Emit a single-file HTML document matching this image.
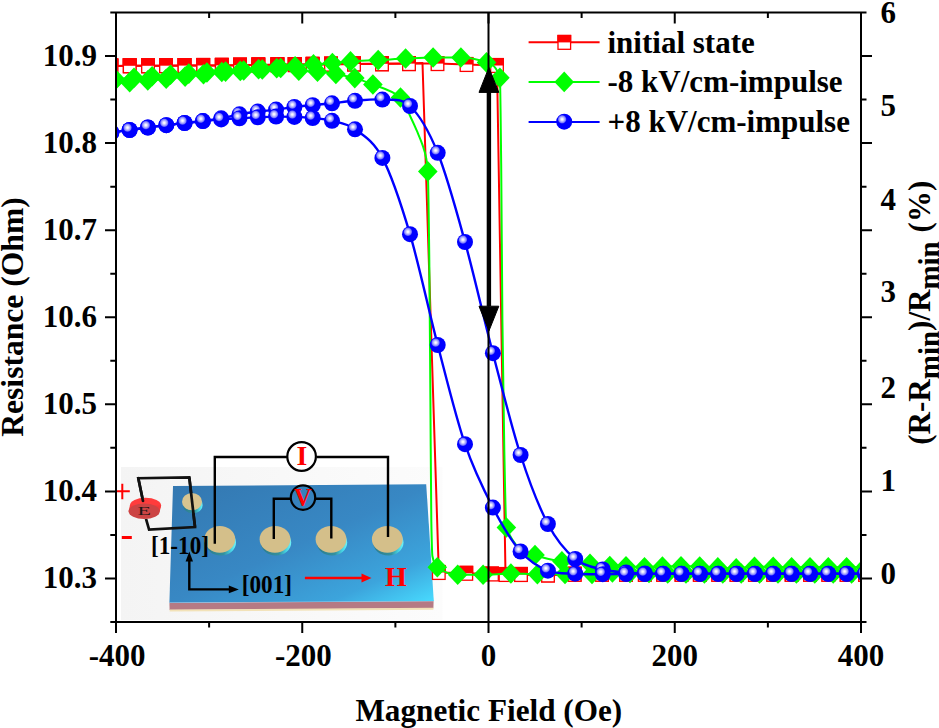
<!DOCTYPE html><html><head><meta charset="utf-8"><style>html,body{margin:0;padding:0;background:#fff;width:939px;height:728px;overflow:hidden}svg{display:block}</style></head><body>
<svg width="939" height="728" viewBox="0 0 939 728">
<defs>
<radialGradient id="sph" cx="0.37" cy="0.35" r="0.5" fx="0.37" fy="0.35"><stop offset="0" stop-color="#ffffff"/><stop offset="0.1" stop-color="#f4f4ff"/><stop offset="0.28" stop-color="#b8b8ff"/><stop offset="0.44" stop-color="#7a7aff"/><stop offset="0.52" stop-color="#2424ff"/><stop offset="0.58" stop-color="#0000ff"/><stop offset="1" stop-color="#0000ff"/></radialGradient>
<clipPath id="plot"><rect x="116" y="12.5" width="745" height="609.5"/></clipPath>
<linearGradient id="slab" x1="0" y1="0" x2="1" y2="1"><stop offset="0" stop-color="#3377b0"/><stop offset="0.5" stop-color="#3888c4"/><stop offset="0.8" stop-color="#3ca4dc"/><stop offset="1" stop-color="#48dcff"/></linearGradient>
<linearGradient id="ered" x1="0" y1="0" x2="0" y2="1"><stop offset="0" stop-color="#f03838"/><stop offset="1" stop-color="#c83a3a"/></linearGradient>
<linearGradient id="rim" x1="0" y1="0" x2="1" y2="0"><stop offset="0" stop-color="#2c7c8e"/><stop offset="0.6" stop-color="#33909e"/><stop offset="0.85" stop-color="#48d8e8"/><stop offset="1" stop-color="#70f4f8"/></linearGradient>
<linearGradient id="ibg" x1="0" y1="0" x2="1" y2="0"><stop offset="0" stop-color="#f4f4f4"/><stop offset="1" stop-color="#fcfcfc"/></linearGradient>
</defs>
<rect width="939" height="728" fill="#fff"/>
<rect x="121" y="467" width="321.5" height="153" fill="url(#ibg)"/>
<path d="M169.4 602.5 L433.6 600.8 L433.4 608.2 L169.6 610 Z" fill="#b57a84"/>
<path d="M169.6 609.6 L433.4 607.8 L433.3 609.8 L169.7 611.6 Z" fill="#f2e2b8"/>
<path d="M169.4 602.5 L433.6 600.8" stroke="#b8d8f0" stroke-width="1"/>
<path d="M173 485.9 L426.2 484.3 L433.8 601 L169.4 602.6 Z" fill="url(#slab)"/>
<path d="M143 500.8 L138.3 478.2 L189.3 477.4 L195 527 L149.1 529.6 L146 518.8" fill="none" stroke="#111" stroke-width="2.7" stroke-linejoin="miter"/>
<ellipse cx="145.5" cy="505.6" rx="15.6" ry="7.9" fill="#ff3c3c"/>
<path d="M129.9 505.6 L161.1 505.6 L159.8 511.3 L128.6 511.3 Z" fill="#f43a3a"/>
<ellipse cx="144.2" cy="511.3" rx="15.6" ry="7.8" fill="#cc4444"/>
<path d="M138.3 478.2 L143 501" fill="none" stroke="#111" stroke-width="2.7" stroke-linecap="round"/>
<text transform="translate(137.6 515.4) scale(1.72 1)" x="0" y="0" font-size="12.8" style="font-family:'Liberation Serif',serif" fill="#1e1414">E</text>
<ellipse cx="192.8" cy="505" rx="9.8" ry="8.4" fill="url(#rim)"/>
<ellipse cx="192" cy="501.7" rx="10" ry="8.6" fill="#d8c490"/>
<path d="M189.3 477.4 L195 527" fill="none" stroke="#111" stroke-width="2.7"/>
<ellipse cx="220.8" cy="542.6" rx="15.2" ry="13" fill="url(#rim)"/>
<ellipse cx="219.8" cy="539.3" rx="15.4" ry="13.4" fill="#d4bf8a"/>
<ellipse cx="276.0" cy="542.6" rx="15.2" ry="13" fill="url(#rim)"/>
<ellipse cx="275.0" cy="539.3" rx="15.4" ry="13.4" fill="#d4bf8a"/>
<ellipse cx="332.0" cy="542.6" rx="15.2" ry="13" fill="url(#rim)"/>
<ellipse cx="331.0" cy="539.3" rx="15.4" ry="13.4" fill="#d4bf8a"/>
<ellipse cx="388.3" cy="542.6" rx="15.2" ry="13" fill="url(#rim)"/>
<ellipse cx="387.3" cy="539.3" rx="15.4" ry="13.4" fill="#d4bf8a"/>
<path d="M214.8 543.8 L214.8 457 L287 457 M316.7 457 L388 457 L388 537" fill="none" stroke="#000" stroke-width="2.4"/>
<circle cx="301.6" cy="456.5" r="14.3" fill="#fff" stroke="#000" stroke-width="2.2"/>
<text x="301.8" y="464.6" font-size="27.6" text-anchor="middle" style="font-family:'Liberation Serif',serif;font-weight:bold" fill="#ff0000">I</text>
<path d="M273.8 539 L273.8 498.8 L290.5 498.8 M315.3 498.8 L331.3 498.8 L331.3 538.4" fill="none" stroke="#000" stroke-width="2.4"/>
<circle cx="303" cy="497.6" r="12.2" fill="none" stroke="#000" stroke-width="2.2"/>
<text x="302.8" y="506.2" font-size="24.2" text-anchor="middle" style="font-family:'Liberation Serif',serif;font-weight:bold" fill="#ff0000">V</text>
<path d="M116.7 491.3 L129.8 491.3 M122.3 483.8 L122.3 499.3" stroke="#ff0000" stroke-width="2"/>
<rect x="121.8" y="536" width="10" height="3" fill="#ff0000"/>
<text transform="translate(151.0 553.6) scale(1 1.1)" font-size="23.2" style="font-family:'Liberation Serif',serif;font-weight:bold" fill="#000">[1-10]</text>
<text transform="translate(241.8 592.7) scale(1 1.1)" font-size="23.2" style="font-family:'Liberation Serif',serif;font-weight:bold" fill="#000">[001]</text>
<path d="M189.3 560 L189.3 589.4 L230 589.4" fill="none" stroke="#000" stroke-width="2.4"/>
<path d="M189.3 551.5 L185.6 561.5 L193 561.5 Z" fill="#000"/>
<path d="M238.8 589.4 L228.8 585.6 L228.8 593.2 Z" fill="#000"/>
<path d="M304.9 578 L363 578" stroke="#ff0000" stroke-width="2.6"/>
<path d="M371.5 578 L361.5 573.6 L361.5 582.4 Z" fill="#ff0000"/>
<text x="385.0" y="586.2" font-size="28" style="font-family:'Liberation Serif',serif;font-weight:bold" fill="#ff0000">H</text>
<g clip-path="url(#plot)">
<path d="M111.40 66.00 L129.70 65.80 L148.00 65.80 L166.00 65.70 L184.50 65.60 L203.20 65.50 L221.80 65.40 L240.00 65.20 L258.30 65.00 L277.40 64.80 L294.70 64.60 L312.60 64.40 L331.00 64.20 L354.00 64.00 L382.00 63.80 L409.00 63.60 L437.50 63.60 L466.50 64.50 L497.00 65.50 L505.50 574.50 L521.00 574.50 L548.00 575.00 L574.70 574.30 L602.00 574.30 L626.00 574.30 L644.80 574.30 L663.10 574.30 L681.50 574.30 L699.80 574.30 L718.20 574.30 L736.50 574.30 L754.90 574.30 L773.20 574.30 L791.60 574.30 L810.00 574.30 L828.30 574.30 L846.60 574.30 L865.00 574.30" fill="none" stroke="#ff0000" stroke-width="2" stroke-linejoin="round"/>
<path d="M111.40 66.00 L129.70 65.80 L148.00 65.80 L166.00 65.70 L184.50 65.60 L203.20 65.50 L221.80 65.40 L240.00 65.20 L258.30 65.00 L277.40 64.80 L294.70 64.60 L312.60 64.40 L331.00 64.20 L354.00 64.00 L382.00 63.80 L409.00 63.60 L422.50 63.00 L438.80 572.50 L466.30 573.30 L492.00 574.00 L521.00 574.50 L548.00 575.00 L574.70 574.30 L602.00 574.30 L626.00 574.30 L644.80 574.30 L663.10 574.30 L681.50 574.30 L699.80 574.30 L718.20 574.30 L736.50 574.30 L754.90 574.30 L773.20 574.30 L791.60 574.30 L810.00 574.30 L828.30 574.30 L846.60 574.30 L865.00 574.30" fill="none" stroke="#ff0000" stroke-width="2" stroke-linejoin="round"/>
<rect x="105.10" y="59.10" width="12.60" height="13.80" fill="#fff" stroke="#ff0000" stroke-width="1.3"/><rect x="104.45" y="58.45" width="13.90" height="7.55" fill="#ff0000"/>
<rect x="123.40" y="58.90" width="12.60" height="13.80" fill="#fff" stroke="#ff0000" stroke-width="1.3"/><rect x="122.75" y="58.25" width="13.90" height="7.55" fill="#ff0000"/>
<rect x="141.70" y="58.90" width="12.60" height="13.80" fill="#fff" stroke="#ff0000" stroke-width="1.3"/><rect x="141.05" y="58.25" width="13.90" height="7.55" fill="#ff0000"/>
<rect x="159.70" y="58.80" width="12.60" height="13.80" fill="#fff" stroke="#ff0000" stroke-width="1.3"/><rect x="159.05" y="58.15" width="13.90" height="7.55" fill="#ff0000"/>
<rect x="178.20" y="58.70" width="12.60" height="13.80" fill="#fff" stroke="#ff0000" stroke-width="1.3"/><rect x="177.55" y="58.05" width="13.90" height="7.55" fill="#ff0000"/>
<rect x="196.90" y="58.60" width="12.60" height="13.80" fill="#fff" stroke="#ff0000" stroke-width="1.3"/><rect x="196.25" y="57.95" width="13.90" height="7.55" fill="#ff0000"/>
<rect x="215.50" y="58.50" width="12.60" height="13.80" fill="#fff" stroke="#ff0000" stroke-width="1.3"/><rect x="214.85" y="57.85" width="13.90" height="7.55" fill="#ff0000"/>
<rect x="233.70" y="58.30" width="12.60" height="13.80" fill="#fff" stroke="#ff0000" stroke-width="1.3"/><rect x="233.05" y="57.65" width="13.90" height="7.55" fill="#ff0000"/>
<rect x="252.00" y="58.10" width="12.60" height="13.80" fill="#fff" stroke="#ff0000" stroke-width="1.3"/><rect x="251.35" y="57.45" width="13.90" height="7.55" fill="#ff0000"/>
<rect x="271.10" y="57.90" width="12.60" height="13.80" fill="#fff" stroke="#ff0000" stroke-width="1.3"/><rect x="270.45" y="57.25" width="13.90" height="7.55" fill="#ff0000"/>
<rect x="288.40" y="57.70" width="12.60" height="13.80" fill="#fff" stroke="#ff0000" stroke-width="1.3"/><rect x="287.75" y="57.05" width="13.90" height="7.55" fill="#ff0000"/>
<rect x="306.30" y="57.50" width="12.60" height="13.80" fill="#fff" stroke="#ff0000" stroke-width="1.3"/><rect x="305.65" y="56.85" width="13.90" height="7.55" fill="#ff0000"/>
<rect x="324.70" y="57.30" width="12.60" height="13.80" fill="#fff" stroke="#ff0000" stroke-width="1.3"/><rect x="324.05" y="56.65" width="13.90" height="7.55" fill="#ff0000"/>
<rect x="347.70" y="57.10" width="12.60" height="13.80" fill="#fff" stroke="#ff0000" stroke-width="1.3"/><rect x="347.05" y="56.45" width="13.90" height="7.55" fill="#ff0000"/>
<rect x="375.70" y="56.90" width="12.60" height="13.80" fill="#fff" stroke="#ff0000" stroke-width="1.3"/><rect x="375.05" y="56.25" width="13.90" height="7.55" fill="#ff0000"/>
<rect x="402.70" y="56.70" width="12.60" height="13.80" fill="#fff" stroke="#ff0000" stroke-width="1.3"/><rect x="402.05" y="56.05" width="13.90" height="7.55" fill="#ff0000"/>
<rect x="431.20" y="56.70" width="12.60" height="13.80" fill="#fff" stroke="#ff0000" stroke-width="1.3"/><rect x="430.55" y="56.05" width="13.90" height="7.55" fill="#ff0000"/>
<rect x="460.20" y="57.60" width="12.60" height="13.80" fill="#fff" stroke="#ff0000" stroke-width="1.3"/><rect x="459.55" y="56.95" width="13.90" height="7.55" fill="#ff0000"/>
<rect x="490.70" y="58.60" width="12.60" height="13.80" fill="#fff" stroke="#ff0000" stroke-width="1.3"/><rect x="490.05" y="57.95" width="13.90" height="7.55" fill="#ff0000"/>
<rect x="499.20" y="567.60" width="12.60" height="13.80" fill="#fff" stroke="#ff0000" stroke-width="1.3"/><rect x="498.55" y="566.95" width="13.90" height="7.55" fill="#ff0000"/>
<rect x="514.70" y="567.60" width="12.60" height="13.80" fill="#fff" stroke="#ff0000" stroke-width="1.3"/><rect x="514.05" y="566.95" width="13.90" height="7.55" fill="#ff0000"/>
<rect x="541.70" y="568.10" width="12.60" height="13.80" fill="#fff" stroke="#ff0000" stroke-width="1.3"/><rect x="541.05" y="567.45" width="13.90" height="7.55" fill="#ff0000"/>
<rect x="568.40" y="567.40" width="12.60" height="13.80" fill="#fff" stroke="#ff0000" stroke-width="1.3"/><rect x="567.75" y="566.75" width="13.90" height="7.55" fill="#ff0000"/>
<rect x="595.70" y="567.40" width="12.60" height="13.80" fill="#fff" stroke="#ff0000" stroke-width="1.3"/><rect x="595.05" y="566.75" width="13.90" height="7.55" fill="#ff0000"/>
<rect x="619.70" y="567.40" width="12.60" height="13.80" fill="#fff" stroke="#ff0000" stroke-width="1.3"/><rect x="619.05" y="566.75" width="13.90" height="7.55" fill="#ff0000"/>
<rect x="638.50" y="567.40" width="12.60" height="13.80" fill="#fff" stroke="#ff0000" stroke-width="1.3"/><rect x="637.85" y="566.75" width="13.90" height="7.55" fill="#ff0000"/>
<rect x="656.80" y="567.40" width="12.60" height="13.80" fill="#fff" stroke="#ff0000" stroke-width="1.3"/><rect x="656.15" y="566.75" width="13.90" height="7.55" fill="#ff0000"/>
<rect x="675.20" y="567.40" width="12.60" height="13.80" fill="#fff" stroke="#ff0000" stroke-width="1.3"/><rect x="674.55" y="566.75" width="13.90" height="7.55" fill="#ff0000"/>
<rect x="693.50" y="567.40" width="12.60" height="13.80" fill="#fff" stroke="#ff0000" stroke-width="1.3"/><rect x="692.85" y="566.75" width="13.90" height="7.55" fill="#ff0000"/>
<rect x="711.90" y="567.40" width="12.60" height="13.80" fill="#fff" stroke="#ff0000" stroke-width="1.3"/><rect x="711.25" y="566.75" width="13.90" height="7.55" fill="#ff0000"/>
<rect x="730.20" y="567.40" width="12.60" height="13.80" fill="#fff" stroke="#ff0000" stroke-width="1.3"/><rect x="729.55" y="566.75" width="13.90" height="7.55" fill="#ff0000"/>
<rect x="748.60" y="567.40" width="12.60" height="13.80" fill="#fff" stroke="#ff0000" stroke-width="1.3"/><rect x="747.95" y="566.75" width="13.90" height="7.55" fill="#ff0000"/>
<rect x="766.90" y="567.40" width="12.60" height="13.80" fill="#fff" stroke="#ff0000" stroke-width="1.3"/><rect x="766.25" y="566.75" width="13.90" height="7.55" fill="#ff0000"/>
<rect x="785.30" y="567.40" width="12.60" height="13.80" fill="#fff" stroke="#ff0000" stroke-width="1.3"/><rect x="784.65" y="566.75" width="13.90" height="7.55" fill="#ff0000"/>
<rect x="803.70" y="567.40" width="12.60" height="13.80" fill="#fff" stroke="#ff0000" stroke-width="1.3"/><rect x="803.05" y="566.75" width="13.90" height="7.55" fill="#ff0000"/>
<rect x="822.00" y="567.40" width="12.60" height="13.80" fill="#fff" stroke="#ff0000" stroke-width="1.3"/><rect x="821.35" y="566.75" width="13.90" height="7.55" fill="#ff0000"/>
<rect x="840.30" y="567.40" width="12.60" height="13.80" fill="#fff" stroke="#ff0000" stroke-width="1.3"/><rect x="839.65" y="566.75" width="13.90" height="7.55" fill="#ff0000"/>
<rect x="858.70" y="567.40" width="12.60" height="13.80" fill="#fff" stroke="#ff0000" stroke-width="1.3"/><rect x="858.05" y="566.75" width="13.90" height="7.55" fill="#ff0000"/>
<rect x="105.10" y="59.10" width="12.60" height="13.80" fill="#fff" stroke="#ff0000" stroke-width="1.3"/><rect x="104.45" y="58.45" width="13.90" height="7.55" fill="#ff0000"/>
<rect x="123.40" y="58.90" width="12.60" height="13.80" fill="#fff" stroke="#ff0000" stroke-width="1.3"/><rect x="122.75" y="58.25" width="13.90" height="7.55" fill="#ff0000"/>
<rect x="141.70" y="58.90" width="12.60" height="13.80" fill="#fff" stroke="#ff0000" stroke-width="1.3"/><rect x="141.05" y="58.25" width="13.90" height="7.55" fill="#ff0000"/>
<rect x="159.70" y="58.80" width="12.60" height="13.80" fill="#fff" stroke="#ff0000" stroke-width="1.3"/><rect x="159.05" y="58.15" width="13.90" height="7.55" fill="#ff0000"/>
<rect x="178.20" y="58.70" width="12.60" height="13.80" fill="#fff" stroke="#ff0000" stroke-width="1.3"/><rect x="177.55" y="58.05" width="13.90" height="7.55" fill="#ff0000"/>
<rect x="196.90" y="58.60" width="12.60" height="13.80" fill="#fff" stroke="#ff0000" stroke-width="1.3"/><rect x="196.25" y="57.95" width="13.90" height="7.55" fill="#ff0000"/>
<rect x="215.50" y="58.50" width="12.60" height="13.80" fill="#fff" stroke="#ff0000" stroke-width="1.3"/><rect x="214.85" y="57.85" width="13.90" height="7.55" fill="#ff0000"/>
<rect x="233.70" y="58.30" width="12.60" height="13.80" fill="#fff" stroke="#ff0000" stroke-width="1.3"/><rect x="233.05" y="57.65" width="13.90" height="7.55" fill="#ff0000"/>
<rect x="252.00" y="58.10" width="12.60" height="13.80" fill="#fff" stroke="#ff0000" stroke-width="1.3"/><rect x="251.35" y="57.45" width="13.90" height="7.55" fill="#ff0000"/>
<rect x="271.10" y="57.90" width="12.60" height="13.80" fill="#fff" stroke="#ff0000" stroke-width="1.3"/><rect x="270.45" y="57.25" width="13.90" height="7.55" fill="#ff0000"/>
<rect x="288.40" y="57.70" width="12.60" height="13.80" fill="#fff" stroke="#ff0000" stroke-width="1.3"/><rect x="287.75" y="57.05" width="13.90" height="7.55" fill="#ff0000"/>
<rect x="306.30" y="57.50" width="12.60" height="13.80" fill="#fff" stroke="#ff0000" stroke-width="1.3"/><rect x="305.65" y="56.85" width="13.90" height="7.55" fill="#ff0000"/>
<rect x="324.70" y="57.30" width="12.60" height="13.80" fill="#fff" stroke="#ff0000" stroke-width="1.3"/><rect x="324.05" y="56.65" width="13.90" height="7.55" fill="#ff0000"/>
<rect x="347.70" y="57.10" width="12.60" height="13.80" fill="#fff" stroke="#ff0000" stroke-width="1.3"/><rect x="347.05" y="56.45" width="13.90" height="7.55" fill="#ff0000"/>
<rect x="375.70" y="56.90" width="12.60" height="13.80" fill="#fff" stroke="#ff0000" stroke-width="1.3"/><rect x="375.05" y="56.25" width="13.90" height="7.55" fill="#ff0000"/>
<rect x="402.70" y="56.70" width="12.60" height="13.80" fill="#fff" stroke="#ff0000" stroke-width="1.3"/><rect x="402.05" y="56.05" width="13.90" height="7.55" fill="#ff0000"/>
<rect x="432.50" y="565.60" width="12.60" height="13.80" fill="#fff" stroke="#ff0000" stroke-width="1.3"/><rect x="431.85" y="564.95" width="13.90" height="7.55" fill="#ff0000"/>
<rect x="460.00" y="566.40" width="12.60" height="13.80" fill="#fff" stroke="#ff0000" stroke-width="1.3"/><rect x="459.35" y="565.75" width="13.90" height="7.55" fill="#ff0000"/>
<rect x="485.70" y="567.10" width="12.60" height="13.80" fill="#fff" stroke="#ff0000" stroke-width="1.3"/><rect x="485.05" y="566.45" width="13.90" height="7.55" fill="#ff0000"/>
<rect x="514.70" y="567.60" width="12.60" height="13.80" fill="#fff" stroke="#ff0000" stroke-width="1.3"/><rect x="514.05" y="566.95" width="13.90" height="7.55" fill="#ff0000"/>
<rect x="541.70" y="568.10" width="12.60" height="13.80" fill="#fff" stroke="#ff0000" stroke-width="1.3"/><rect x="541.05" y="567.45" width="13.90" height="7.55" fill="#ff0000"/>
<rect x="568.40" y="567.40" width="12.60" height="13.80" fill="#fff" stroke="#ff0000" stroke-width="1.3"/><rect x="567.75" y="566.75" width="13.90" height="7.55" fill="#ff0000"/>
<rect x="595.70" y="567.40" width="12.60" height="13.80" fill="#fff" stroke="#ff0000" stroke-width="1.3"/><rect x="595.05" y="566.75" width="13.90" height="7.55" fill="#ff0000"/>
<rect x="619.70" y="567.40" width="12.60" height="13.80" fill="#fff" stroke="#ff0000" stroke-width="1.3"/><rect x="619.05" y="566.75" width="13.90" height="7.55" fill="#ff0000"/>
<rect x="638.50" y="567.40" width="12.60" height="13.80" fill="#fff" stroke="#ff0000" stroke-width="1.3"/><rect x="637.85" y="566.75" width="13.90" height="7.55" fill="#ff0000"/>
<rect x="656.80" y="567.40" width="12.60" height="13.80" fill="#fff" stroke="#ff0000" stroke-width="1.3"/><rect x="656.15" y="566.75" width="13.90" height="7.55" fill="#ff0000"/>
<rect x="675.20" y="567.40" width="12.60" height="13.80" fill="#fff" stroke="#ff0000" stroke-width="1.3"/><rect x="674.55" y="566.75" width="13.90" height="7.55" fill="#ff0000"/>
<rect x="693.50" y="567.40" width="12.60" height="13.80" fill="#fff" stroke="#ff0000" stroke-width="1.3"/><rect x="692.85" y="566.75" width="13.90" height="7.55" fill="#ff0000"/>
<rect x="711.90" y="567.40" width="12.60" height="13.80" fill="#fff" stroke="#ff0000" stroke-width="1.3"/><rect x="711.25" y="566.75" width="13.90" height="7.55" fill="#ff0000"/>
<rect x="730.20" y="567.40" width="12.60" height="13.80" fill="#fff" stroke="#ff0000" stroke-width="1.3"/><rect x="729.55" y="566.75" width="13.90" height="7.55" fill="#ff0000"/>
<rect x="748.60" y="567.40" width="12.60" height="13.80" fill="#fff" stroke="#ff0000" stroke-width="1.3"/><rect x="747.95" y="566.75" width="13.90" height="7.55" fill="#ff0000"/>
<rect x="766.90" y="567.40" width="12.60" height="13.80" fill="#fff" stroke="#ff0000" stroke-width="1.3"/><rect x="766.25" y="566.75" width="13.90" height="7.55" fill="#ff0000"/>
<rect x="785.30" y="567.40" width="12.60" height="13.80" fill="#fff" stroke="#ff0000" stroke-width="1.3"/><rect x="784.65" y="566.75" width="13.90" height="7.55" fill="#ff0000"/>
<rect x="803.70" y="567.40" width="12.60" height="13.80" fill="#fff" stroke="#ff0000" stroke-width="1.3"/><rect x="803.05" y="566.75" width="13.90" height="7.55" fill="#ff0000"/>
<rect x="822.00" y="567.40" width="12.60" height="13.80" fill="#fff" stroke="#ff0000" stroke-width="1.3"/><rect x="821.35" y="566.75" width="13.90" height="7.55" fill="#ff0000"/>
<rect x="840.30" y="567.40" width="12.60" height="13.80" fill="#fff" stroke="#ff0000" stroke-width="1.3"/><rect x="839.65" y="566.75" width="13.90" height="7.55" fill="#ff0000"/>
<rect x="858.70" y="567.40" width="12.60" height="13.80" fill="#fff" stroke="#ff0000" stroke-width="1.3"/><rect x="858.05" y="566.75" width="13.90" height="7.55" fill="#ff0000"/>
<path d="M115.50 79.30 C121.67 78.80 127.83 78.32 134.00 77.80 C140.03 77.29 146.07 76.69 152.10 76.20 C158.23 75.70 164.37 75.23 170.50 74.80 C176.60 74.37 182.70 73.98 188.80 73.60 C194.83 73.22 200.87 72.82 206.90 72.50 C213.13 72.16 219.37 71.94 225.60 71.60 C231.63 71.28 237.67 70.84 243.70 70.50 C249.90 70.15 256.10 69.90 262.30 69.50 C268.43 69.10 274.57 68.61 280.70 68.00 C285.50 67.52 290.30 66.73 295.10 66.20 C301.23 65.52 307.37 64.92 313.50 64.40 C319.80 63.87 326.10 63.51 332.40 63.00 C338.43 62.51 344.47 61.78 350.50 61.40 C359.73 60.82 368.97 60.58 378.20 60.10 C387.33 59.62 396.47 58.91 405.60 58.50 C414.77 58.09 423.93 57.50 433.10 57.50 C442.37 57.50 451.63 57.50 460.90 57.50 C469.43 57.50 477.97 59.38 486.50 62.40 C490.97 63.98 495.43 64.05 499.90 77.70 C500.33 79.02 500.77 126.55 501.20 165.00 C501.60 200.50 502.00 283.37 502.40 320.00 C503.03 378.00 503.67 419.48 504.30 450.00 C505.00 483.73 505.70 525.70 506.40 527.50 C515.93 552.08 525.47 551.43 535.00 555.00 C543.97 558.36 552.93 560.17 561.90 561.30 C571.27 562.48 580.63 562.77 590.00 563.70 C596.60 564.36 603.20 565.86 609.80 566.00 C615.20 566.12 620.60 566.09 626.00 566.20 C632.17 566.32 638.33 567.20 644.50 567.20 C650.47 567.20 656.43 566.60 662.40 566.50 C668.60 566.40 674.80 566.30 681.00 566.30 C687.23 566.30 693.47 566.39 699.70 566.50 C705.73 566.61 711.77 567.09 717.80 567.40 C723.93 567.72 730.07 568.40 736.20 568.40 C742.30 568.40 748.40 566.80 754.50 566.80 C760.73 566.80 766.97 566.80 773.20 566.80 C779.33 566.80 785.47 567.20 791.60 567.20 C797.73 567.20 803.87 567.20 810.00 567.20 C816.10 567.20 822.20 567.20 828.30 567.20 C834.40 567.20 840.50 567.20 846.60 567.20 C852.73 567.20 858.87 567.20 865.00 567.20" fill="none" stroke="#00ff00" stroke-width="2"/>
<path d="M111.40 84.00 C117.50 83.40 123.60 82.80 129.70 82.20 C135.73 81.60 141.77 80.98 147.80 80.40 C153.93 79.81 160.07 79.32 166.20 78.70 C172.50 78.06 178.80 77.34 185.10 76.60 C191.23 75.88 197.37 75.07 203.50 74.30 C209.60 73.54 215.70 72.49 221.80 72.00 C227.97 71.50 234.13 71.34 240.30 70.90 C246.40 70.47 252.50 69.74 258.60 69.30 C264.63 68.87 270.67 68.20 276.70 68.20 C284.07 68.20 291.43 70.17 298.80 70.70 C305.03 71.15 311.27 71.24 317.50 71.70 C323.63 72.15 329.77 72.95 335.90 73.90 C342.20 74.88 348.50 76.38 354.80 78.10 C360.83 79.75 366.87 82.09 372.90 84.50 C382.10 88.18 391.30 89.81 400.50 97.50 C403.93 100.37 407.37 110.36 410.80 117.50 C412.87 121.79 414.93 126.35 417.00 131.20 C418.83 135.50 420.67 139.42 422.50 144.90 C423.77 148.69 425.03 151.87 426.30 158.70 C426.80 161.40 427.30 163.99 427.80 171.40 C428.30 178.81 428.80 218.88 429.30 260.00 C429.67 290.15 430.03 352.21 430.40 400.00 C430.70 439.10 431.00 503.91 431.30 520.00 C431.67 539.67 432.03 554.07 432.40 556.00 C434.03 564.62 435.67 566.08 437.30 567.30 C444.10 572.36 450.90 574.80 457.70 574.80 C466.17 574.80 474.63 574.80 483.10 574.80 C492.37 574.80 501.63 573.50 510.90 573.50 C519.73 573.50 528.57 574.20 537.40 574.20 C546.60 574.20 555.80 574.00 565.00 574.00 C574.00 574.00 583.00 574.00 592.00 574.00 C598.80 574.00 605.60 572.50 612.40 572.50 C618.27 572.50 624.13 573.00 630.00 573.00 C636.33 573.00 642.67 573.00 649.00 573.00 C655.23 573.00 661.47 573.50 667.70 573.50 C673.80 573.50 679.90 573.50 686.00 573.50 C692.13 573.50 698.27 573.50 704.40 573.50 C710.53 573.50 716.67 573.50 722.80 573.50 C728.93 573.50 735.07 573.50 741.20 573.50 C747.33 573.50 753.47 573.50 759.60 573.50 C765.73 573.50 771.87 573.50 778.00 573.50 C784.13 573.50 790.27 573.50 796.40 573.50 C802.53 573.50 808.67 573.50 814.80 573.50 C820.93 573.50 827.07 573.50 833.20 573.50 C839.33 573.50 845.47 573.50 851.60 573.50 C857.73 573.50 863.87 573.50 870.00 573.50" fill="none" stroke="#00ff00" stroke-width="2"/>
<path d="M115.50 69.00L125.30 79.30L115.50 89.60L105.70 79.30Z" fill="#00ff00"/>
<path d="M134.00 67.50L143.80 77.80L134.00 88.10L124.20 77.80Z" fill="#00ff00"/>
<path d="M152.10 65.90L161.90 76.20L152.10 86.50L142.30 76.20Z" fill="#00ff00"/>
<path d="M170.50 64.50L180.30 74.80L170.50 85.10L160.70 74.80Z" fill="#00ff00"/>
<path d="M188.80 63.30L198.60 73.60L188.80 83.90L179.00 73.60Z" fill="#00ff00"/>
<path d="M206.90 62.20L216.70 72.50L206.90 82.80L197.10 72.50Z" fill="#00ff00"/>
<path d="M225.60 61.30L235.40 71.60L225.60 81.90L215.80 71.60Z" fill="#00ff00"/>
<path d="M243.70 60.20L253.50 70.50L243.70 80.80L233.90 70.50Z" fill="#00ff00"/>
<path d="M262.30 59.20L272.10 69.50L262.30 79.80L252.50 69.50Z" fill="#00ff00"/>
<path d="M280.70 57.70L290.50 68.00L280.70 78.30L270.90 68.00Z" fill="#00ff00"/>
<path d="M295.10 55.90L304.90 66.20L295.10 76.50L285.30 66.20Z" fill="#00ff00"/>
<path d="M313.50 54.10L323.30 64.40L313.50 74.70L303.70 64.40Z" fill="#00ff00"/>
<path d="M332.40 52.70L342.20 63.00L332.40 73.30L322.60 63.00Z" fill="#00ff00"/>
<path d="M350.50 51.10L360.30 61.40L350.50 71.70L340.70 61.40Z" fill="#00ff00"/>
<path d="M378.20 49.80L388.00 60.10L378.20 70.40L368.40 60.10Z" fill="#00ff00"/>
<path d="M405.60 48.20L415.40 58.50L405.60 68.80L395.80 58.50Z" fill="#00ff00"/>
<path d="M433.10 47.20L442.90 57.50L433.10 67.80L423.30 57.50Z" fill="#00ff00"/>
<path d="M460.90 47.20L470.70 57.50L460.90 67.80L451.10 57.50Z" fill="#00ff00"/>
<path d="M486.50 52.10L496.30 62.40L486.50 72.70L476.70 62.40Z" fill="#00ff00"/>
<path d="M499.90 67.40L509.70 77.70L499.90 88.00L490.10 77.70Z" fill="#00ff00"/>
<path d="M506.40 517.20L516.20 527.50L506.40 537.80L496.60 527.50Z" fill="#00ff00"/>
<path d="M535.00 544.70L544.80 555.00L535.00 565.30L525.20 555.00Z" fill="#00ff00"/>
<path d="M561.90 551.00L571.70 561.30L561.90 571.60L552.10 561.30Z" fill="#00ff00"/>
<path d="M590.00 553.40L599.80 563.70L590.00 574.00L580.20 563.70Z" fill="#00ff00"/>
<path d="M609.80 555.70L619.60 566.00L609.80 576.30L600.00 566.00Z" fill="#00ff00"/>
<path d="M626.00 555.90L635.80 566.20L626.00 576.50L616.20 566.20Z" fill="#00ff00"/>
<path d="M644.50 556.90L654.30 567.20L644.50 577.50L634.70 567.20Z" fill="#00ff00"/>
<path d="M662.40 556.20L672.20 566.50L662.40 576.80L652.60 566.50Z" fill="#00ff00"/>
<path d="M681.00 556.00L690.80 566.30L681.00 576.60L671.20 566.30Z" fill="#00ff00"/>
<path d="M699.70 556.20L709.50 566.50L699.70 576.80L689.90 566.50Z" fill="#00ff00"/>
<path d="M717.80 557.10L727.60 567.40L717.80 577.70L708.00 567.40Z" fill="#00ff00"/>
<path d="M736.20 558.10L746.00 568.40L736.20 578.70L726.40 568.40Z" fill="#00ff00"/>
<path d="M754.50 556.50L764.30 566.80L754.50 577.10L744.70 566.80Z" fill="#00ff00"/>
<path d="M773.20 556.50L783.00 566.80L773.20 577.10L763.40 566.80Z" fill="#00ff00"/>
<path d="M791.60 556.90L801.40 567.20L791.60 577.50L781.80 567.20Z" fill="#00ff00"/>
<path d="M810.00 556.90L819.80 567.20L810.00 577.50L800.20 567.20Z" fill="#00ff00"/>
<path d="M828.30 556.90L838.10 567.20L828.30 577.50L818.50 567.20Z" fill="#00ff00"/>
<path d="M846.60 556.90L856.40 567.20L846.60 577.50L836.80 567.20Z" fill="#00ff00"/>
<path d="M865.00 556.90L874.80 567.20L865.00 577.50L855.20 567.20Z" fill="#00ff00"/>
<path d="M111.40 73.70L121.20 84.00L111.40 94.30L101.60 84.00Z" fill="#00ff00"/>
<path d="M129.70 71.90L139.50 82.20L129.70 92.50L119.90 82.20Z" fill="#00ff00"/>
<path d="M147.80 70.10L157.60 80.40L147.80 90.70L138.00 80.40Z" fill="#00ff00"/>
<path d="M166.20 68.40L176.00 78.70L166.20 89.00L156.40 78.70Z" fill="#00ff00"/>
<path d="M185.10 66.30L194.90 76.60L185.10 86.90L175.30 76.60Z" fill="#00ff00"/>
<path d="M203.50 64.00L213.30 74.30L203.50 84.60L193.70 74.30Z" fill="#00ff00"/>
<path d="M221.80 61.70L231.60 72.00L221.80 82.30L212.00 72.00Z" fill="#00ff00"/>
<path d="M240.30 60.60L250.10 70.90L240.30 81.20L230.50 70.90Z" fill="#00ff00"/>
<path d="M258.60 59.00L268.40 69.30L258.60 79.60L248.80 69.30Z" fill="#00ff00"/>
<path d="M276.70 57.90L286.50 68.20L276.70 78.50L266.90 68.20Z" fill="#00ff00"/>
<path d="M298.80 60.40L308.60 70.70L298.80 81.00L289.00 70.70Z" fill="#00ff00"/>
<path d="M317.50 61.40L327.30 71.70L317.50 82.00L307.70 71.70Z" fill="#00ff00"/>
<path d="M335.90 63.60L345.70 73.90L335.90 84.20L326.10 73.90Z" fill="#00ff00"/>
<path d="M354.80 67.80L364.60 78.10L354.80 88.40L345.00 78.10Z" fill="#00ff00"/>
<path d="M372.90 74.20L382.70 84.50L372.90 94.80L363.10 84.50Z" fill="#00ff00"/>
<path d="M400.50 87.20L410.30 97.50L400.50 107.80L390.70 97.50Z" fill="#00ff00"/>
<path d="M427.80 161.10L437.60 171.40L427.80 181.70L418.00 171.40Z" fill="#00ff00"/>
<path d="M437.30 557.00L447.10 567.30L437.30 577.60L427.50 567.30Z" fill="#00ff00"/>
<path d="M457.70 564.50L467.50 574.80L457.70 585.10L447.90 574.80Z" fill="#00ff00"/>
<path d="M483.10 564.50L492.90 574.80L483.10 585.10L473.30 574.80Z" fill="#00ff00"/>
<path d="M510.90 563.20L520.70 573.50L510.90 583.80L501.10 573.50Z" fill="#00ff00"/>
<path d="M537.40 563.90L547.20 574.20L537.40 584.50L527.60 574.20Z" fill="#00ff00"/>
<path d="M565.00 563.70L574.80 574.00L565.00 584.30L555.20 574.00Z" fill="#00ff00"/>
<path d="M592.00 563.70L601.80 574.00L592.00 584.30L582.20 574.00Z" fill="#00ff00"/>
<path d="M612.40 562.20L622.20 572.50L612.40 582.80L602.60 572.50Z" fill="#00ff00"/>
<path d="M630.00 562.70L639.80 573.00L630.00 583.30L620.20 573.00Z" fill="#00ff00"/>
<path d="M649.00 562.70L658.80 573.00L649.00 583.30L639.20 573.00Z" fill="#00ff00"/>
<path d="M667.70 563.20L677.50 573.50L667.70 583.80L657.90 573.50Z" fill="#00ff00"/>
<path d="M686.00 563.20L695.80 573.50L686.00 583.80L676.20 573.50Z" fill="#00ff00"/>
<path d="M704.40 563.20L714.20 573.50L704.40 583.80L694.60 573.50Z" fill="#00ff00"/>
<path d="M722.80 563.20L732.60 573.50L722.80 583.80L713.00 573.50Z" fill="#00ff00"/>
<path d="M741.20 563.20L751.00 573.50L741.20 583.80L731.40 573.50Z" fill="#00ff00"/>
<path d="M759.60 563.20L769.40 573.50L759.60 583.80L749.80 573.50Z" fill="#00ff00"/>
<path d="M778.00 563.20L787.80 573.50L778.00 583.80L768.20 573.50Z" fill="#00ff00"/>
<path d="M796.40 563.20L806.20 573.50L796.40 583.80L786.60 573.50Z" fill="#00ff00"/>
<path d="M814.80 563.20L824.60 573.50L814.80 583.80L805.00 573.50Z" fill="#00ff00"/>
<path d="M833.20 563.20L843.00 573.50L833.20 583.80L823.40 573.50Z" fill="#00ff00"/>
<path d="M851.60 563.20L861.40 573.50L851.60 583.80L841.80 573.50Z" fill="#00ff00"/>
<path d="M870.00 563.20L879.80 573.50L870.00 583.80L860.20 573.50Z" fill="#00ff00"/>
<path d="M111.40 132.50 C114.43 132.08 123.52 130.83 129.60 130.00 C135.68 129.17 141.78 128.30 147.90 127.50 C154.02 126.70 160.18 125.95 166.30 125.20 C172.42 124.45 178.50 123.68 184.60 123.00 C190.70 122.32 196.80 121.88 202.90 121.10 C209.00 120.32 215.10 119.43 221.20 118.30 C227.30 117.17 233.40 115.42 239.50 114.30 C245.60 113.18 251.70 112.38 257.80 111.60 C263.90 110.82 270.00 110.37 276.10 109.60 C282.20 108.83 288.30 107.73 294.40 107.00 C300.50 106.27 306.43 105.82 312.70 105.20 C318.97 104.58 324.95 104.03 332.00 103.30 C339.05 102.57 346.60 101.42 355.00 100.80 C363.40 100.18 373.23 98.73 382.40 99.60 C391.57 100.47 400.78 97.13 410.00 106.00 C419.22 114.87 428.53 130.13 437.70 152.80 C446.87 175.47 455.80 208.60 465.00 242.00 C474.20 275.40 483.63 317.70 492.90 353.20 C502.17 388.70 511.43 426.53 520.60 455.00 C529.77 483.47 538.80 506.67 547.90 524.00 C557.00 541.33 566.05 551.42 575.20 559.00 C584.35 566.58 594.32 567.25 602.80 569.50 C611.28 571.75 619.10 571.83 626.10 572.50 C633.10 573.17 638.63 573.28 644.80 573.50 C650.97 573.72 656.98 573.75 663.10 573.80 C669.22 573.85 675.37 573.80 681.50 573.80 C687.63 573.80 693.78 573.80 699.90 573.80 C706.02 573.80 712.08 573.80 718.20 573.80 C724.32 573.80 730.48 573.80 736.60 573.80 C742.72 573.80 748.78 573.80 754.90 573.80 C761.02 573.80 767.18 573.80 773.30 573.80 C779.42 573.80 785.48 573.80 791.60 573.80 C797.72 573.80 803.88 573.80 810.00 573.80 C816.12 573.80 822.18 573.80 828.30 573.80 C834.42 573.80 840.58 573.80 846.70 573.80 C852.82 573.80 861.95 573.80 865.00 573.80" fill="none" stroke="#0000ff" stroke-width="2.4"/>
<path d="M111.40 132.50 C114.43 132.08 123.52 130.83 129.60 130.00 C135.68 129.17 141.78 128.30 147.90 127.50 C154.02 126.70 160.18 125.95 166.30 125.20 C172.42 124.45 178.50 123.68 184.60 123.00 C190.70 122.32 196.80 121.70 202.90 121.10 C209.00 120.50 215.10 119.87 221.20 119.40 C227.30 118.93 233.40 118.65 239.50 118.30 C245.60 117.95 251.70 117.58 257.80 117.30 C263.90 117.02 270.00 116.67 276.10 116.60 C282.20 116.53 288.30 116.67 294.40 116.90 C300.50 117.13 306.43 117.35 312.70 118.00 C318.97 118.65 324.95 118.92 332.00 120.80 C339.05 122.68 346.60 123.12 355.00 129.30 C363.40 135.48 373.23 140.42 382.40 157.90 C391.57 175.38 400.78 203.02 410.00 234.20 C419.22 265.38 428.53 310.00 437.70 345.00 C446.87 380.00 455.80 417.10 465.00 444.20 C474.20 471.30 483.63 489.72 492.90 507.60 C502.17 525.48 511.43 540.98 520.60 551.50 C529.77 562.02 538.80 567.00 547.90 570.70 C557.00 574.40 566.05 573.12 575.20 573.70 C584.35 574.28 594.32 574.15 602.80 574.20 C611.28 574.25 619.10 574.03 626.10 574.00 C633.10 573.97 638.63 574.03 644.80 574.00 C650.97 573.97 656.98 573.83 663.10 573.80 C669.22 573.77 675.37 573.80 681.50 573.80 C687.63 573.80 693.78 573.80 699.90 573.80 C706.02 573.80 712.08 573.80 718.20 573.80 C724.32 573.80 730.48 573.80 736.60 573.80 C742.72 573.80 748.78 573.80 754.90 573.80 C761.02 573.80 767.18 573.80 773.30 573.80 C779.42 573.80 785.48 573.80 791.60 573.80 C797.72 573.80 803.88 573.80 810.00 573.80 C816.12 573.80 822.18 573.80 828.30 573.80 C834.42 573.80 840.58 573.80 846.70 573.80 C852.82 573.80 861.95 573.80 865.00 573.80" fill="none" stroke="#0000ff" stroke-width="2.4"/>
<circle cx="111.40" cy="132.50" r="8.00" fill="url(#sph)"/>
<circle cx="129.60" cy="130.00" r="8.00" fill="url(#sph)"/>
<circle cx="147.90" cy="127.50" r="8.00" fill="url(#sph)"/>
<circle cx="166.30" cy="125.20" r="8.00" fill="url(#sph)"/>
<circle cx="184.60" cy="123.00" r="8.00" fill="url(#sph)"/>
<circle cx="202.90" cy="121.10" r="8.00" fill="url(#sph)"/>
<circle cx="221.20" cy="118.30" r="8.00" fill="url(#sph)"/>
<circle cx="239.50" cy="114.30" r="8.00" fill="url(#sph)"/>
<circle cx="257.80" cy="111.60" r="8.00" fill="url(#sph)"/>
<circle cx="276.10" cy="109.60" r="8.00" fill="url(#sph)"/>
<circle cx="294.40" cy="107.00" r="8.00" fill="url(#sph)"/>
<circle cx="312.70" cy="105.20" r="8.00" fill="url(#sph)"/>
<circle cx="332.00" cy="103.30" r="8.00" fill="url(#sph)"/>
<circle cx="355.00" cy="100.80" r="8.00" fill="url(#sph)"/>
<circle cx="382.40" cy="99.60" r="8.00" fill="url(#sph)"/>
<circle cx="410.00" cy="106.00" r="8.00" fill="url(#sph)"/>
<circle cx="437.70" cy="152.80" r="8.00" fill="url(#sph)"/>
<circle cx="465.00" cy="242.00" r="8.00" fill="url(#sph)"/>
<circle cx="492.90" cy="353.20" r="8.00" fill="url(#sph)"/>
<circle cx="520.60" cy="455.00" r="8.00" fill="url(#sph)"/>
<circle cx="547.90" cy="524.00" r="8.00" fill="url(#sph)"/>
<circle cx="575.20" cy="559.00" r="8.00" fill="url(#sph)"/>
<circle cx="602.80" cy="569.50" r="8.00" fill="url(#sph)"/>
<circle cx="626.10" cy="572.50" r="8.00" fill="url(#sph)"/>
<circle cx="644.80" cy="573.50" r="8.00" fill="url(#sph)"/>
<circle cx="663.10" cy="573.80" r="8.00" fill="url(#sph)"/>
<circle cx="681.50" cy="573.80" r="8.00" fill="url(#sph)"/>
<circle cx="699.90" cy="573.80" r="8.00" fill="url(#sph)"/>
<circle cx="718.20" cy="573.80" r="8.00" fill="url(#sph)"/>
<circle cx="736.60" cy="573.80" r="8.00" fill="url(#sph)"/>
<circle cx="754.90" cy="573.80" r="8.00" fill="url(#sph)"/>
<circle cx="773.30" cy="573.80" r="8.00" fill="url(#sph)"/>
<circle cx="791.60" cy="573.80" r="8.00" fill="url(#sph)"/>
<circle cx="810.00" cy="573.80" r="8.00" fill="url(#sph)"/>
<circle cx="828.30" cy="573.80" r="8.00" fill="url(#sph)"/>
<circle cx="846.70" cy="573.80" r="8.00" fill="url(#sph)"/>
<circle cx="865.00" cy="573.80" r="8.00" fill="url(#sph)"/>
<circle cx="111.40" cy="132.50" r="8.00" fill="url(#sph)"/>
<circle cx="129.60" cy="130.00" r="8.00" fill="url(#sph)"/>
<circle cx="147.90" cy="127.50" r="8.00" fill="url(#sph)"/>
<circle cx="166.30" cy="125.20" r="8.00" fill="url(#sph)"/>
<circle cx="184.60" cy="123.00" r="8.00" fill="url(#sph)"/>
<circle cx="202.90" cy="121.10" r="8.00" fill="url(#sph)"/>
<circle cx="221.20" cy="119.40" r="8.00" fill="url(#sph)"/>
<circle cx="239.50" cy="118.30" r="8.00" fill="url(#sph)"/>
<circle cx="257.80" cy="117.30" r="8.00" fill="url(#sph)"/>
<circle cx="276.10" cy="116.60" r="8.00" fill="url(#sph)"/>
<circle cx="294.40" cy="116.90" r="8.00" fill="url(#sph)"/>
<circle cx="312.70" cy="118.00" r="8.00" fill="url(#sph)"/>
<circle cx="332.00" cy="120.80" r="8.00" fill="url(#sph)"/>
<circle cx="355.00" cy="129.30" r="8.00" fill="url(#sph)"/>
<circle cx="382.40" cy="157.90" r="8.00" fill="url(#sph)"/>
<circle cx="410.00" cy="234.20" r="8.00" fill="url(#sph)"/>
<circle cx="437.70" cy="345.00" r="8.00" fill="url(#sph)"/>
<circle cx="465.00" cy="444.20" r="8.00" fill="url(#sph)"/>
<circle cx="492.90" cy="507.60" r="8.00" fill="url(#sph)"/>
<circle cx="520.60" cy="551.50" r="8.00" fill="url(#sph)"/>
<circle cx="547.90" cy="570.70" r="8.00" fill="url(#sph)"/>
<circle cx="575.20" cy="573.70" r="8.00" fill="url(#sph)"/>
<circle cx="602.80" cy="574.20" r="8.00" fill="url(#sph)"/>
<circle cx="626.10" cy="574.00" r="8.00" fill="url(#sph)"/>
<circle cx="644.80" cy="574.00" r="8.00" fill="url(#sph)"/>
<circle cx="663.10" cy="573.80" r="8.00" fill="url(#sph)"/>
<circle cx="681.50" cy="573.80" r="8.00" fill="url(#sph)"/>
<circle cx="699.90" cy="573.80" r="8.00" fill="url(#sph)"/>
<circle cx="718.20" cy="573.80" r="8.00" fill="url(#sph)"/>
<circle cx="736.60" cy="573.80" r="8.00" fill="url(#sph)"/>
<circle cx="754.90" cy="573.80" r="8.00" fill="url(#sph)"/>
<circle cx="773.30" cy="573.80" r="8.00" fill="url(#sph)"/>
<circle cx="791.60" cy="573.80" r="8.00" fill="url(#sph)"/>
<circle cx="810.00" cy="573.80" r="8.00" fill="url(#sph)"/>
<circle cx="828.30" cy="573.80" r="8.00" fill="url(#sph)"/>
<circle cx="846.70" cy="573.80" r="8.00" fill="url(#sph)"/>
<circle cx="865.00" cy="573.80" r="8.00" fill="url(#sph)"/>
</g>
<path d="M488.5 12.5 L488.5 622" stroke="#000" stroke-width="2"/>
<path d="M488.9 92 L488.9 306" stroke="#000" stroke-width="4.4"/>
<path d="M488.9 67.5 L479 92.4 L498.8 92.4 Z" fill="#000" stroke="#000" stroke-width="1" stroke-linejoin="round"/>
<path d="M488.9 331 L479 306.2 L498.8 306.2 Z" fill="#000" stroke="#000" stroke-width="1" stroke-linejoin="round"/>
<path d="M116 12.5 L861 12.5 L861 622 L116 622 Z M110.3 12.50 L116 12.50 M105.0 56.04 L116 56.04 M110.3 99.57 L116 99.57 M105.0 143.11 L116 143.11 M110.3 186.64 L116 186.64 M105.0 230.18 L116 230.18 M110.3 273.71 L116 273.71 M105.0 317.25 L116 317.25 M110.3 360.79 L116 360.79 M105.0 404.32 L116 404.32 M110.3 447.86 L116 447.86 M105.0 491.39 L116 491.39 M110.3 534.93 L116 534.93 M105.0 578.46 L116 578.46 M110.3 622.00 L116 622.00 M861 12.50 L866.5 12.50 M861 56.04 L872.0 56.04 M861 99.57 L866.5 99.57 M861 143.11 L872.0 143.11 M861 186.64 L866.5 186.64 M861 230.18 L872.0 230.18 M861 273.71 L866.5 273.71 M861 317.25 L872.0 317.25 M861 360.79 L866.5 360.79 M861 404.32 L872.0 404.32 M861 447.86 L866.5 447.86 M861 491.39 L872.0 491.39 M861 534.93 L866.5 534.93 M861 578.46 L872.0 578.46 M861 622.00 L866.5 622.00 M116.00 622 L116.00 633.0 M209.12 622 L209.12 627.5 M302.25 622 L302.25 633.0 M395.38 622 L395.38 627.5 M488.50 622 L488.50 633.0 M581.62 622 L581.62 627.5 M674.75 622 L674.75 633.0 M767.88 622 L767.88 627.5 M861.00 622 L861.00 633.0 M209.12 12.5 L209.12 18.0 M302.25 12.5 L302.25 23.5 M395.38 12.5 L395.38 18.0 M488.50 12.5 L488.50 23.5 M581.62 12.5 L581.62 18.0 M674.75 12.5 L674.75 23.5 M767.88 12.5 L767.88 18.0" fill="none" stroke="#000" stroke-width="2"/>
<g style="font-family:'Liberation Serif',serif;font-weight:bold" fill="#000"><text x="97" y="65.6" font-size="31" text-anchor="end">10.9</text><text x="97" y="152.6" font-size="31" text-anchor="end">10.8</text><text x="97" y="239.6" font-size="31" text-anchor="end">10.7</text><text x="97" y="326.6" font-size="31" text-anchor="end">10.6</text><text x="97" y="413.6" font-size="31" text-anchor="end">10.5</text><text x="97" y="500.6" font-size="31" text-anchor="end">10.4</text><text x="97" y="587.6" font-size="31" text-anchor="end">10.3</text><text x="117.2" y="666" font-size="31" text-anchor="middle">-400</text><text x="303.4" y="666" font-size="31" text-anchor="middle">-200</text><text x="488.5" y="666" font-size="31" text-anchor="middle">0</text><text x="674.8" y="666" font-size="31" text-anchor="middle">200</text><text x="861.0" y="666" font-size="31" text-anchor="middle">400</text><text x="880.5" y="22.7" font-size="31">6</text><text x="880.5" y="116.1" font-size="31">5</text><text x="880.5" y="209.9" font-size="31">4</text><text x="880.5" y="301.5" font-size="31">3</text><text x="880.5" y="397.5" font-size="31">2</text><text x="880.5" y="491.0" font-size="31">1</text><text x="880.5" y="583.5" font-size="31">0</text><text x="488.8" y="720.7" font-size="31.2" text-anchor="middle">Magnetic Field (Oe)</text><text transform="translate(22.7 317) rotate(-90)" font-size="31.6" text-anchor="middle">Resistance (Ohm)</text><text transform="translate(930.4 444.7) rotate(-90)" font-size="31">(R-R<tspan font-size="29" dy="9" dx="0">min</tspan><tspan dy="-9" dx="0">)/R</tspan><tspan font-size="29" dy="9" dx="0">min</tspan><tspan dy="-9" dx="1.1"> (%)</tspan></text><text x="607.5" y="52.7" font-size="31">initial state</text><text x="607.5" y="92.3" font-size="31">-8 kV/cm-impulse</text><text x="607.5" y="131.8" font-size="31">+8 kV/cm-impulse</text></g>
<path d="M528.6 42.2 L599.6 42.2" stroke="#ff0000" stroke-width="2"/>
<rect x="558.00" y="35.50" width="12.60" height="13.80" fill="#fff" stroke="#ff0000" stroke-width="1.3"/><rect x="557.35" y="34.85" width="13.90" height="7.55" fill="#ff0000"/>
<path d="M528.6 81.9 L599.6 81.9" stroke="#00ff00" stroke-width="2"/>
<path d="M564.20 71.60L574.00 81.90L564.20 92.20L554.40 81.90Z" fill="#00ff00"/>
<path d="M528.6 121.9 L599.6 121.9" stroke="#0000ff" stroke-width="2"/>
<circle cx="564.20" cy="121.70" r="8.00" fill="url(#sph)"/>
</svg></body></html>
